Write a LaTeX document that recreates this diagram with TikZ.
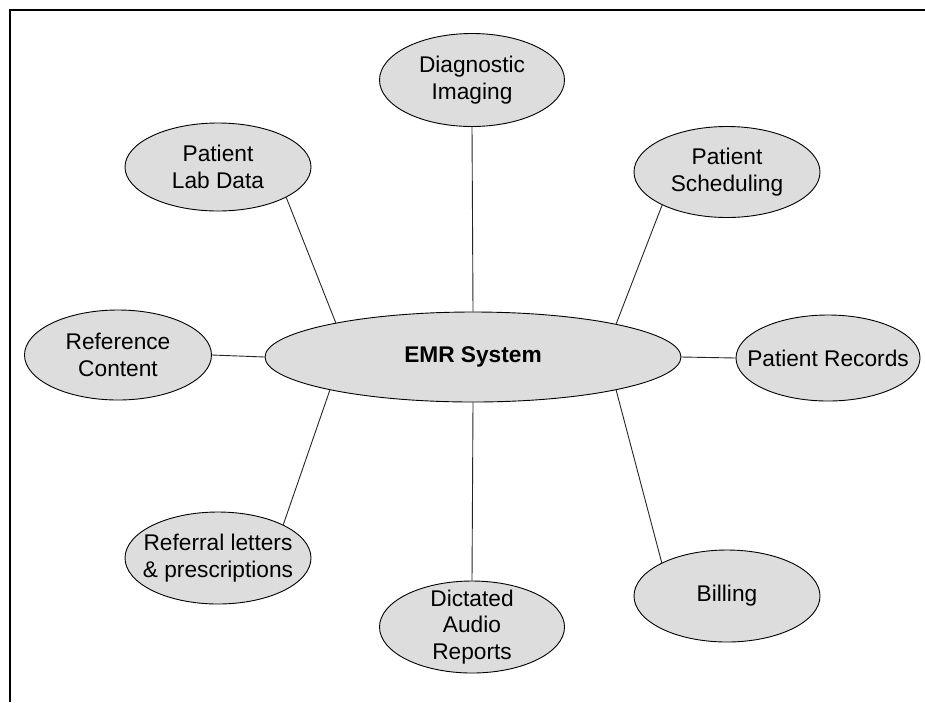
\documentclass[tikz,border=0pt]{standalone}
\usepackage{fontspec}
\setmainfont{Liberation Sans}
\usetikzlibrary{shapes.geometric}
\definecolor{bubble}{HTML}{DDDDDD}
\begin{document}
\begin{tikzpicture}[x=1pt,y=-1pt,
  bub/.style={ellipse,draw=black,line width=0.9pt,fill=bubble,inner xsep=-80pt,inner ysep=-50pt,
    minimum width=186pt,minimum height=91pt,align=center,
    font=\fontsize{22.7}{26.7}\selectfont},
  link/.style={draw=black!85,line width=0.9pt}]
\useasboundingbox (0,0) rectangle (925,702);
\fill[white] (0,0) rectangle (925,702);
\draw[line width=2pt] (10,702) -- (10,10) -- (925,10);
\node[bub,minimum width=416pt,minimum height=90pt,font=\fontsize{22.7}{26.7}\selectfont\bfseries] (emr) at (473,357) {EMR System};
\node[bub,minimum width=185pt,minimum height=93pt] (diag) at (472,80) {Diagnostic\\Imaging};
\node[bub,minimum height=88pt] (lab) at (218,167) {Patient\\Lab Data};
\node[bub] (sched) at (727,172) {Patient\\Scheduling};
\node[bub,minimum width=187pt,minimum height=90pt] (ref) at (118,355) {Reference\\Content};
\node[bub,minimum width=184pt,minimum height=86pt] (rec) at (828,358) {Patient Records};
\node[bub,minimum height=92pt] (refl) at (218,558) {Referral letters\\\& prescriptions};
\node[bub,minimum width=185pt,minimum height=92pt] (dict) at (472,627) {Dictated\\Audio\\Reports};
\node[bub,minimum height=92pt] (bill) at (727,596) {Billing};
\draw[link] (diag.south) -- (emr.north);
\draw[link] (dict.north) -- (emr.south);
\draw[link] (ref.east) -- (emr.west);
\draw[link] (rec.west) -- (emr.east);
\draw[link] (lab.-24) -- (emr.166.5);
\draw[link] (sched.207.6) -- (emr.13.4);
\draw[link] (refl.27.6) -- (emr.193.5);
\draw[link] (bill.153.8) -- (emr.-13.4);
\end{tikzpicture}
\end{document}
